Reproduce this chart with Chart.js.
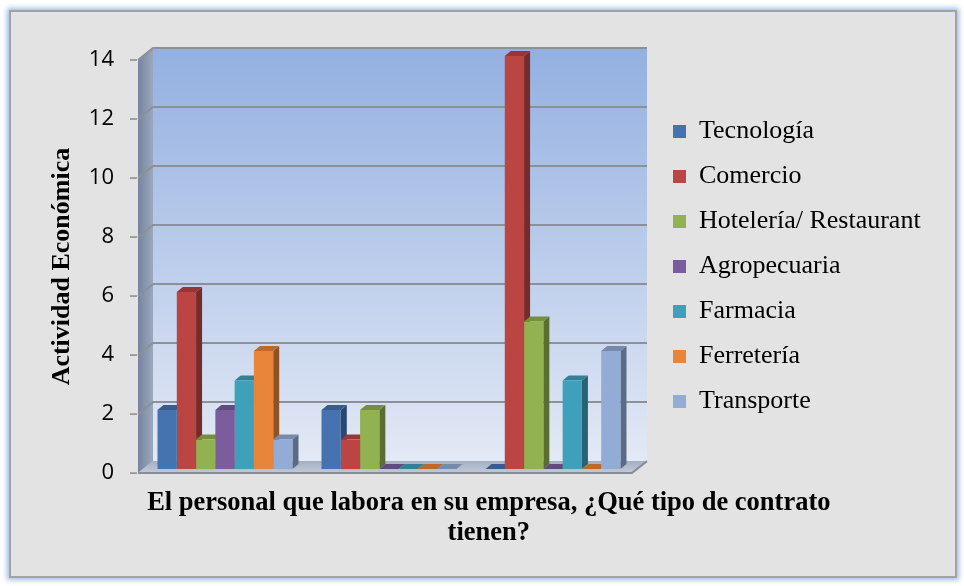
<!DOCTYPE html>
<html>
<head>
<meta charset="utf-8">
<script src="https://cdn.jsdelivr.net/npm/chart.js@4.4.0/dist/chart.umd.min.js"></script>
<style>
    html, body { margin: 0; padding: 0; background: #fff; }
    #marco {
        position: absolute; left: 9px; top: 10px; width: 944px; height: 564px;
        border: 2px solid #a3a3a3; background: #e3e3e3;
        box-shadow: 0 0 5px 2px rgba(125, 165, 225, 0.75);
    }
    #grafico { position: absolute; left: 0; top: 0; }
</style>
</head>
<body>
<div id="marco"></div>
<canvas id="grafico" width="964" height="586"></canvas>
<script>
// Datos
const categorias = ['Respuesta 1', 'Respuesta 2', 'Respuesta 3'];
const actividades = ['Tecnología', 'Comercio', 'Hotelería/ Restaurant', 'Agropecuaria', 'Farmacia', 'Ferretería', 'Transporte'];
const tecnologia   = [2, 2, 0];
const comercio     = [6, 1, 14];
const hoteleria    = [1, 2, 5];
const agropecuaria = [2, 0, 0];
const farmacia     = [3, 0, 3];
const ferreteria   = [4, 0, 0];
const transporte   = [1, 0, 4];
const marcasY = [0, 2, 4, 6, 8, 10, 12, 14];

const series = [tecnologia, comercio, hoteleria, agropecuaria, farmacia, ferreteria, transporte];
const colores = ['#4573b0', '#bb4542', '#92b150', '#7b5d9d', '#3fa0bb', '#e9853a', '#93acd6'];

const PROF_X = 15, PROF_Y = 12;   // profundidad de las paredes
const BAR_X = 6, BAR_Y = 5;       // profundidad de las barras
const FUENTE_SERIF = "'Liberation Serif', 'Times New Roman', serif";
const LEYENDA_PX = 26, LEYENDA_PAD = 19, CAJA = 13;

function sombra(hex, f) {
    const n = parseInt(hex.slice(1), 16);
    const r = Math.round(((n >> 16) & 255) * f), g = Math.round(((n >> 8) & 255) * f), b = Math.round((n & 255) * f);
    return `rgb(${Math.min(r, 255)},${Math.min(g, 255)},${Math.min(b, 255)})`;
}

// ancho de la leyenda para dejar el área de trazado donde va
const medir = document.createElement('canvas').getContext('2d');
medir.font = `${LEYENDA_PX}px ${FUENTE_SERIF}`;
const textoMax = Math.max(...actividades.map(a => medir.measureText(a).width));
const anchoLeyenda = LEYENDA_PAD + CAJA + LEYENDA_PX / 2 + textoMax + 10;
const inicioLeyenda = 673 - LEYENDA_PAD;
const padDerecha = 964 - inicioLeyenda - anchoLeyenda;

const paredes3D = {
    id: 'paredes3D',
    beforeDatasetsDraw(chart) {
        const { ctx, chartArea: ca, scales: { y } } = chart;
        const fl = ca.left - 5, bl = fl + PROF_X, fr = ca.right - 3, br = fr + PROF_X;
        const yb = ca.bottom, yt = y.getPixelForValue(marcasY[marcasY.length - 1]);
        ctx.save();
        // pared del fondo
        let g = ctx.createLinearGradient(0, yt - PROF_Y, 0, yb - PROF_Y);
        g.addColorStop(0, '#93b0e1');
        g.addColorStop(1, '#e3e9f5');
        ctx.fillStyle = g;
        ctx.fillRect(bl, yt - PROF_Y, br - bl, yb - yt);
        // pared izquierda
        g = ctx.createLinearGradient(fl, 0, bl, 0);
        g.addColorStop(0, '#76859f');
        g.addColorStop(1, '#9aa7bd');
        ctx.fillStyle = g;
        ctx.beginPath();
        ctx.moveTo(fl, yt); ctx.lineTo(bl, yt - PROF_Y); ctx.lineTo(bl, yb - PROF_Y); ctx.lineTo(fl, yb);
        ctx.closePath(); ctx.fill();
        // piso
        g = ctx.createLinearGradient(0, yb - PROF_Y, 0, yb);
        g.addColorStop(0, '#a3afc4');
        g.addColorStop(1, '#c2cad8');
        ctx.fillStyle = g;
        ctx.beginPath();
        ctx.moveTo(fl, yb); ctx.lineTo(bl, yb - PROF_Y); ctx.lineTo(br, yb - PROF_Y); ctx.lineTo(fr, yb);
        ctx.closePath(); ctx.fill();
        ctx.strokeStyle = '#8a8d93';
        ctx.lineWidth = 2;
        ctx.beginPath(); ctx.moveTo(fl, yb); ctx.lineTo(fr, yb); ctx.lineTo(br, yb - PROF_Y); ctx.stroke();
        // líneas de división
        ctx.strokeStyle = '#8c9098';
        marcasY.forEach(v => {
            if (v === 0) return;
            const py = y.getPixelForValue(v);
            ctx.beginPath();
            ctx.moveTo(fl, py); ctx.lineTo(bl, py - PROF_Y); ctx.lineTo(br, py - PROF_Y);
            ctx.stroke();
        });
        // marcas del eje
        ctx.lineWidth = 1.5;
        ctx.strokeStyle = '#8a8a8a';
        marcasY.forEach(v => {
            const py = y.getPixelForValue(v);
            ctx.beginPath(); ctx.moveTo(fl - 8, py); ctx.lineTo(fl - 1, py); ctx.stroke();
        });
        ctx.restore();

        // caras laterales y superiores de las barras
        ctx.save();
        ctx.translate(0, -4);
        categorias.forEach((c, j) => {
            series.forEach((s, i) => {
                const bar = chart.getDatasetMeta(i).data[j];
                const w = bar.width, l = bar.x - w / 2, r = bar.x + w / 2, top = bar.y, base = bar.base;
                if (base - top > 0.5) {
                    ctx.fillStyle = sombra(colores[i], 0.62);
                    ctx.beginPath();
                    ctx.moveTo(r, top); ctx.lineTo(r + BAR_X, top - BAR_Y); ctx.lineTo(r + BAR_X, base - BAR_Y); ctx.lineTo(r, base);
                    ctx.closePath(); ctx.fill();
                }
                ctx.fillStyle = sombra(colores[i], 0.8);
                ctx.beginPath();
                ctx.moveTo(l, top); ctx.lineTo(l + BAR_X, top - BAR_Y); ctx.lineTo(r + BAR_X, top - BAR_Y); ctx.lineTo(r, top);
                ctx.closePath(); ctx.fill();
            });
        });
    },
    afterDatasetsDraw(chart) {
        chart.ctx.restore();
    }
};

new Chart(document.getElementById('grafico').getContext('2d'), {
    type: 'bar',
    data: {
        labels: categorias,
        datasets: actividades.map((a, i) => ({
            label: a,
            data: series[i],
            backgroundColor: colores[i],
            borderWidth: 0,
            categoryPercentage: 0.823,
            barPercentage: 1,
            clip: false
        }))
    },
    options: {
        responsive: false,
        animation: false,
        layout: { padding: { left: 47, top: 60, right: padDerecha, bottom: 38 } },
        scales: {
            x: { display: false },
            y: {
                min: 0, max: 14,
                ticks: { stepSize: 2, padding: 21, color: '#000', font: { family: "'Open Sans', sans-serif", size: 22 } },
                grid: { display: false },
                border: { display: false },
                title: { display: true, text: 'Actividad Económica', color: '#000', padding: 0,
                         font: { family: FUENTE_SERIF, size: 26, weight: 'bold' } },
                afterFit(scale) { scale.width = 96; }
            },
            y2: {
                position: 'right',
                ticks: { display: false },
                grid: { display: false },
                border: { display: false },
                afterFit(scale) { scale.width = 19; }
            }
        },
        plugins: {
            legend: {
                position: 'right',
                fullSize: false,
                maxWidth: 400,
                labels: {
                    boxWidth: CAJA, boxHeight: CAJA, padding: LEYENDA_PAD, color: '#000',
                    font: { family: FUENTE_SERIF, size: LEYENDA_PX }
                }
            },
            title: {
                display: true,
                position: 'bottom',
                text: ['El personal que labora en su empresa, ¿Qué tipo de contrato', 'tienen?'],
                color: '#000',
                font: { family: FUENTE_SERIF, size: 26.5, weight: 'bold', lineHeight: 1.13 },
                padding: { top: 15, bottom: 0 }
            },
            tooltip: { enabled: false }
        }
    },
    plugins: [paredes3D]
});
</script>
</body>
</html>
